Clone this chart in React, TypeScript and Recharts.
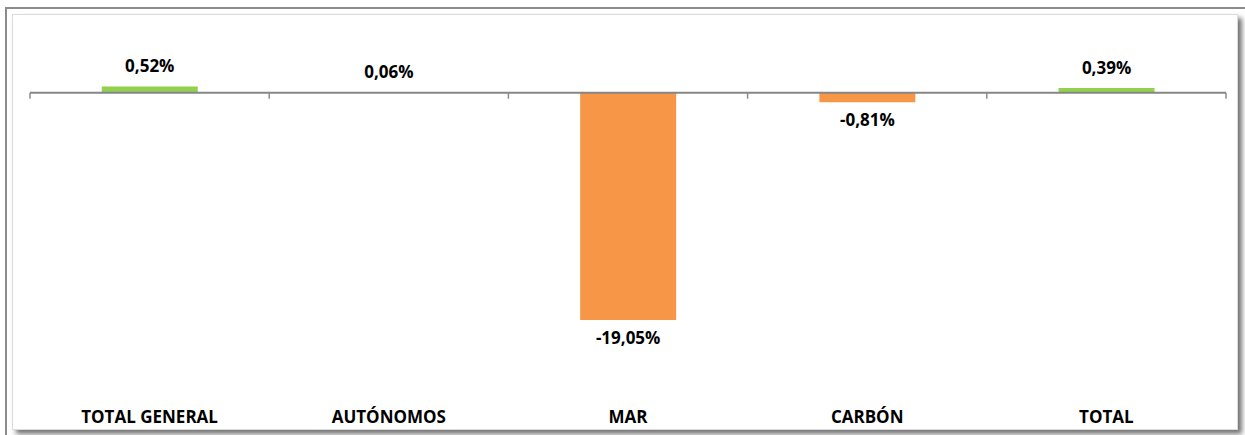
import React from 'react';
import { BarChart, Bar, XAxis, YAxis, Cell, LabelList, ReferenceLine } from 'recharts';

const categories = ['TOTAL GENERAL', 'AUTÓNOMOS', 'MAR', 'CARBÓN', 'TOTAL'];
const values = [0.52, 0.06, -19.05, -0.81, 0.39];

const data = categories.map((name, i) => ({ name, value: values[i] }));

const FONT = '"Open Sans", sans-serif';
const GREEN = '#92D050';
const ORANGE = '#F79646';

const fmt = (v: number) => v.toFixed(2).replace('.', ',') + '%';

function ValueLabel(props: any) {
  const { x, y, width, height, value } = props;
  const top = Math.min(y, y + height);
  const bottom = Math.max(y, y + height);
  const cx = x + width / 2;
  const ty = value >= 0 ? top - 14 : bottom + 24;
  return (
    <text x={cx} y={ty} textAnchor="middle" fontFamily={FONT} fontWeight={700} fontSize={17} fill="#000">
      {fmt(value)}
    </text>
  );
}

// zero line with tick marks at category boundaries
function ZeroAxis(props: any) {
  const { x1, x2, y1 } = props;
  const n = categories.length;
  const step = (x2 - x1) / n;
  const ticks = [];
  for (let i = 0; i <= n; i++) {
    const tx = x1 + i * step;
    ticks.push(<line key={i} x1={tx} x2={tx} y1={y1} y2={y1 + 6} stroke="#8c8c8c" strokeWidth={1.5} />);
  }
  return (
    <g>
      <line x1={x1} x2={x2} y1={y1} y2={y1} stroke="#868686" strokeWidth={2} />
      {ticks}
    </g>
  );
}

export default function App() {
  return (
    <div style={{ position: 'absolute', left: 0, top: 0, width: 1245, height: 435, background: '#fff', overflow: 'hidden' }}>
      <div style={{ position: 'absolute', left: 5, top: 7, width: 1240, height: 440, borderLeft: '2px solid #8c8c8c', borderTop: '2px solid #8c8c8c' }} />
      <div
        style={{
          position: 'absolute',
          left: 12,
          top: 14,
          width: 1224,
          height: 414,
          border: '1px solid #dcdcdc',
          boxShadow: '4px 4px 5px rgba(0,0,0,0.55)',
          background: '#fff',
        }}
      />
      <div style={{ position: 'absolute', left: 0, top: 0 }}>
        <BarChart
          width={1245}
          height={435}
          data={data}
          margin={{ top: 33, right: 19, bottom: 14, left: 30 }}
          barCategoryGap="30%"
        >
          <XAxis
            dataKey="name"
            axisLine={false}
            tickLine={false}
            tickMargin={14}
            height={30}
            interval={0}
            tick={{ fontFamily: FONT, fontWeight: 700, fontSize: 17, fill: '#000' }}
          />
          <YAxis hide domain={[-25, 5]} />
          <Bar dataKey="value" isAnimationActive={false}>
            {data.map((d, i) => (
              <Cell key={i} fill={d.value >= 0 ? GREEN : ORANGE} />
            ))}
            <LabelList dataKey="value" content={ValueLabel} />
          </Bar>
          <ReferenceLine y={0} shape={ZeroAxis} />
        </BarChart>
      </div>
    </div>
  );
}
